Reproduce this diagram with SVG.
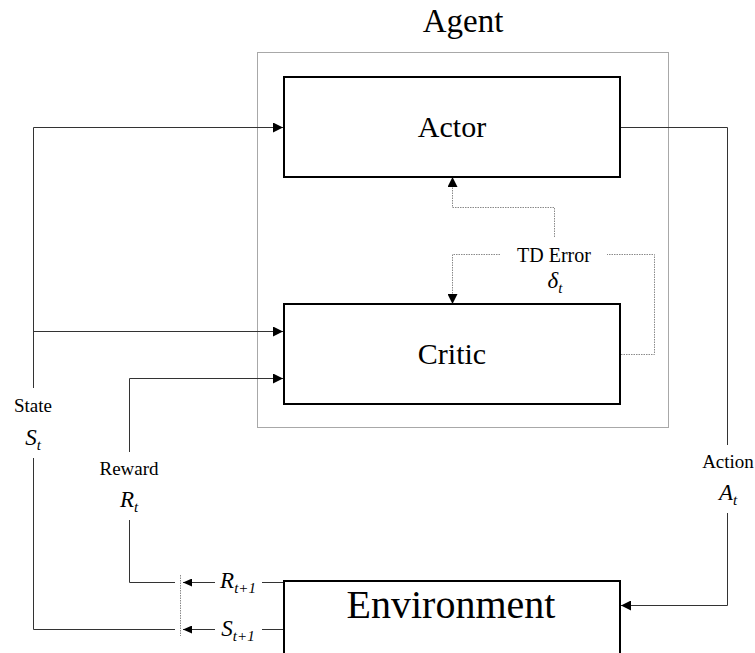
<svg xmlns="http://www.w3.org/2000/svg" width="755" height="653" viewBox="0 0 755 653" font-family="Liberation Serif, serif">
  <style>
    .box { fill: #fff; stroke: #000; stroke-width: 2; }
    .agent { fill: none; stroke: #a8a8a8; stroke-width: 1; }
    .wire { fill: none; stroke: #333; stroke-width: 1; }
    .dot { fill: none; stroke: #8a8a8a; stroke-width: 1; stroke-dasharray: 1.5 1; }
  </style>
  <defs>
    <marker id="arrow" markerUnits="userSpaceOnUse" markerWidth="10" markerHeight="10" refX="10" refY="5" orient="auto">
      <path d="M0,0 L10,5 L0,10 Z" fill="#000"/>
    </marker>
    <marker id="arrowSmall" markerUnits="userSpaceOnUse" markerWidth="10" markerHeight="8" refX="9" refY="4" orient="auto">
      <path d="M0,0 L9,4 L0,8 Z" fill="#000"/>
    </marker>
  </defs>

  <!-- Agent container -->
  <g id="agent">
    <rect class="agent" x="257.5" y="52.5" width="411" height="375"/>
    <text x="463" y="32" font-size="33" text-anchor="middle" font-family="Liberation Serif, serif">Agent</text>
  </g>

  <!-- Connectors -->
  <g id="connectors">
    <!-- Action: Actor to Environment -->
    <polyline class="wire" points="621,127.5 727.5,127.5 727.5,445"/>
    <polyline class="wire" points="727.5,513 727.5,605.5 621,605.5" marker-end="url(#arrow)"/>

    <!-- State feed to Actor and Critic -->
    <polyline class="wire" points="33.5,388 33.5,127.5 283,127.5" marker-end="url(#arrow)"/>
    <polyline class="wire" points="33.5,331.5 283,331.5" marker-end="url(#arrow)"/>
    <polyline class="wire" points="33.5,458 33.5,629.5 175,629.5"/>

    <!-- Reward feed to Critic -->
    <polyline class="wire" points="129.5,452 129.5,378.5 283,378.5" marker-end="url(#arrow)"/>
    <polyline class="wire" points="129.5,520 129.5,582.5 175,582.5"/>

    <!-- Environment outputs -->
    <line class="wire" x1="284" y1="582.5" x2="262" y2="582.5"/>
    <line class="wire" x1="215" y1="582.5" x2="183" y2="582.5" marker-end="url(#arrowSmall)"/>
    <line class="wire" x1="284" y1="629.5" x2="262" y2="629.5"/>
    <line class="wire" x1="215" y1="629.5" x2="183" y2="629.5" marker-end="url(#arrowSmall)"/>
    <line class="dot" x1="180.5" y1="575" x2="180.5" y2="636"/>

    <!-- TD error paths -->
    <polyline class="dot" points="621,354.5 654.5,354.5 654.5,254.5 607,254.5"/>
    <polyline class="dot" points="500,254.5 452.5,254.5 452.5,304" marker-end="url(#arrow)"/>
    <polyline class="dot" points="554.5,237 554.5,207.5 452.5,207.5 452.5,177" marker-end="url(#arrow)"/>
  </g>

  <!-- Nodes -->
  <g id="actor">
    <rect class="box" x="284" y="77" width="336" height="100"/>
    <text x="452" y="137" font-size="30" text-anchor="middle" font-family="Liberation Serif, serif">Actor</text>
  </g>
  <g id="critic">
    <rect class="box" x="284" y="304" width="336" height="100"/>
    <text x="452" y="364" font-size="30" text-anchor="middle" font-family="Liberation Serif, serif">Critic</text>
  </g>
  <g id="environment">
    <rect class="box" x="284" y="581" width="336" height="80"/>
    <text x="451" y="618" font-size="40" text-anchor="middle" font-family="Liberation Serif, serif">Environment</text>
  </g>

  <!-- Signal labels -->
  <g id="labels" font-family="Liberation Serif, serif" text-anchor="middle">
    <text x="33" y="412" font-size="19">State</text>
    <text x="33" y="445" font-size="23" font-style="italic">S<tspan font-size="15" dy="5">t</tspan></text>

    <text x="129" y="475" font-size="19">Reward</text>
    <text x="129" y="507" font-size="23" font-style="italic">R<tspan font-size="15" dy="5">t</tspan></text>

    <text x="728" y="468" font-size="19">Action</text>
    <text x="728" y="500" font-size="23" font-style="italic">A<tspan font-size="15" dy="5">t</tspan></text>

    <text x="554" y="262" font-size="20">TD Error</text>
    <text x="555" y="288" font-size="23" font-style="italic">δ<tspan font-size="15" dy="5">t</tspan></text>

    <text x="238" y="588" font-size="23" font-style="italic">R<tspan font-size="15" dy="5">t+1</tspan></text>
    <text x="238" y="636" font-size="23" font-style="italic">S<tspan font-size="15" dy="5">t+1</tspan></text>
  </g>
</svg>
